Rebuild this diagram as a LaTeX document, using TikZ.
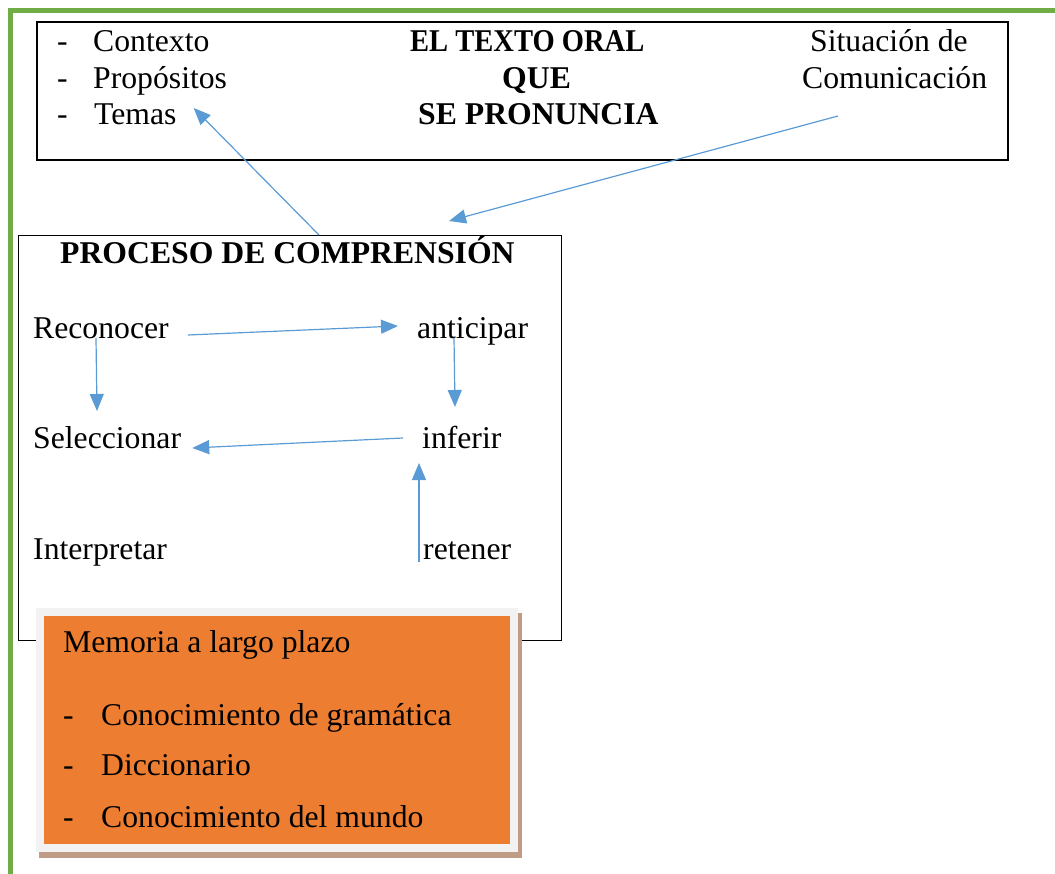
\documentclass[tikz,border=0pt]{standalone}
\usepackage{fontspec}
\setmainfont{Liberation Serif}
\usepackage{graphicx}
\usetikzlibrary{arrows.meta}
\definecolor{frameg}{HTML}{70AD47}
\definecolor{orangec}{HTML}{ED7D31}
\definecolor{lightg}{HTML}{F2F2F2}
\definecolor{shadowc}{HTML}{C09B85}
\definecolor{arrowblue}{HTML}{5B9BD5}
\begin{document}
\begin{tikzpicture}[x=1pt,y=-1pt,
  txt/.style={anchor=base west, inner sep=0pt, font=\fontsize{31.7}{38}\selectfont},
  btxt/.style={anchor=base west, inner sep=0pt, font=\fontsize{31.7}{38}\selectfont\bfseries},
  box/.style={draw=black, anchor=north west, inner sep=0pt, outer sep=0pt},
  conn/.style={draw=arrowblue, line width=1.2pt, -{Triangle[length=17pt,width=14pt]}}]
\useasboundingbox (0,0) rectangle (1055,874);
% green frame
\draw[frameg, line width=4.5pt] (10.5,874) -- (10.5,10.5) -- (1055,10.5);
% top box
\node[box, line width=1.1pt, minimum width=971pt, minimum height=138pt] (top) at (37,22) {};
\node[txt] (d1) at (57,52) {-};
\node[txt] (d2) at (57,89) {-};
\node[txt] (d3) at (57,125) {-};
\node[txt] (contexto) at (93,52) {Contexto};
\node[txt] (propositos) at (93,89) {Propósitos};
\node[txt] (temas) at (94,125) {Temas};
\node[btxt] (t1) at (410,52) {\scalebox{0.9}[1]{EL TEXTO ORAL}};
\node[btxt] (t2) at (502,89) {QUE};
\node[btxt] (t3) at (418,125) {SE PRONUNCIA};
\node[txt] (situacion) at (810,52) {Situación de};
\node[txt] (comun) at (802,89) {Comunicación};
% process box
\node[box, line width=0.9pt, minimum width=543pt, minimum height=405pt] (proc) at (18,235) {};
\node[btxt] (ptitle) at (60,264) {PROCESO DE COMPRENSIÓN};
\node[txt] (reconocer) at (33,339) {Reconocer};
\node[txt] (anticipar) at (417,339) {anticipar};
\node[txt] (seleccionar) at (33,449) {Seleccionar};
\node[txt] (inferir) at (422,449) {inferir};
\node[txt] (interpretar) at (33,559) {Interpretar};
\node[txt] (retener) at (423,559) {retener};
% memory box
\fill[shadowc] (39,613) rectangle (522,858);
\node[box, draw=lightg, line width=8pt, fill=orangec, minimum width=474pt, minimum height=236pt] (mem) at (40,612) {};
\node[txt] (memoria) at (63,652) {Memoria a largo plazo};
\node[txt] (m1) at (63,725) {-};
\node[txt] (m2) at (63,775) {-};
\node[txt] (m3) at (63,827) {-};
\node[txt] (gram) at (101,725) {Conocimiento de gramática};
\node[txt] (dicc) at (101,775) {Diccionario};
\node[txt] (mundo) at (101,827) {Conocimiento del mundo};
% connectors
\draw[conn] ([xshift=29.5pt]proc.north) -- ([shift={(17,-17)}]temas.base east);
\draw[conn] ([shift={(36,27)}]comun.base west) -- ([shift={(159.5,-14)}]proc.north);
\draw[conn] ([shift={(19,-4)}]reconocer.base east) -- ([shift={(-19,-13)}]anticipar.base west);
\draw[conn] ([shift={(63,-1)}]reconocer.base west) -- ([shift={(64,-38)}]seleccionar.base west);
\draw[conn] ([shift={(37,-1)}]anticipar.base west) -- ([shift={(33,-42)}]inferir.base west);
\draw[conn] ([shift={(-19,-11)}]inferir.base west) -- ([shift={(11,-1)}]seleccionar.base east);
\draw[conn] ([shift={(-4,3)}]retener.base west) -- ([shift={(-3,14)}]inferir.base west);
\end{tikzpicture}
\end{document}
